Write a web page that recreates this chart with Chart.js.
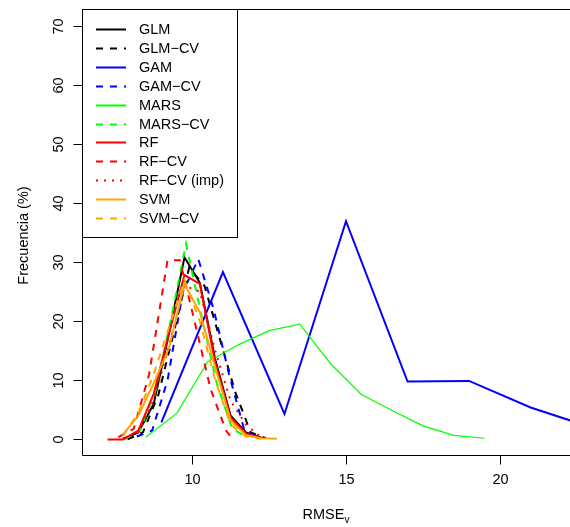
<!DOCTYPE html>
<html>
<head>
<meta charset="utf-8">
<script src="https://cdn.jsdelivr.net/npm/chart.js@4.4.1/dist/chart.umd.min.js"></script>
<style>
  body { margin: 0; background: #fff; }
  #grafica { display: block; }
</style>
</head>
<body>
<canvas id="grafica" width="570" height="527"></canvas>
<script>
// valores (RMSEv vs frecuencia %)
var glmX = [7.75, 8.25, 8.75, 9.25, 9.75, 10.25, 10.75, 11.25, 11.75, 12.25];
var glmY = [0.1, 1.2, 6, 18, 30.8, 26.5, 13.5, 4, 1.2, 0.3];
var glmCvX = [7.9, 8.4, 8.9, 9.4, 9.9, 10.4, 10.9, 11.4, 11.9, 12.4];
var glmCvY = [0, 1.2, 7.5, 18, 29, 26, 17, 8, 1.2, 0.2];
var gamX = [9, 11, 13, 15, 17, 19, 21, 23];
var gamY = [2.9, 28.3, 4.3, 36.9, 9.8, 9.9, 5.4, 2.0];
var gamCvX = [8.2, 8.7, 9.2, 9.7, 10.2, 10.7, 11.2, 11.7, 12.2];
var gamCvY = [0.5, 1.5, 10, 25, 30.5, 22, 11, 1.5, 0.2];
var marsX = [8.5, 9.5, 10.5, 11.5, 12.5, 13.5, 14.5, 15.5, 16.5, 17.5, 18.5, 19.5];
var marsY = [0.4, 4.4, 13.1, 16.0, 18.4, 19.5, 12.8, 7.6, 4.9, 2.3, 0.7, 0.2];
var marsCvX = [7.8, 8.3, 8.8, 9.3, 9.8, 10.3, 10.8, 11.3, 11.8];
var marsCvY = [0, 1.5, 8, 20, 33.1, 21, 9.5, 1.8, 0.3];
var rfX = [7.25, 7.75, 8.25, 8.75, 9.25, 9.75, 10.25, 10.75, 11.25, 11.75, 12.25];
var rfY = [0, 0, 1.5, 7.7, 18, 27.8, 26.3, 13, 3.7, 1.0, 0.2];
var rfCvX = [7.6, 8.1, 8.6, 9.2, 9.6, 10.1, 10.6, 11.1, 11.3];
var rfCvY = [0.4, 1.8, 11, 30.3, 30.3, 19.5, 8.5, 1.5, 0.2];
var rfImpX = [7.75, 8.25, 8.75, 9.25, 9.75, 10.25, 10.75, 11.25, 11.75, 12.25];
var rfImpY = [0.2, 1.2, 6.5, 16, 26, 25, 15, 6.5, 2.5, 0.3];
var svmX = [7.75, 8.25, 8.75, 9.25, 9.75, 10.25, 10.75, 11.25, 11.75, 12.25, 12.75];
var svmY = [0.8, 4, 9.5, 15.5, 26.3, 21.5, 12.2, 3.2, 0.7, 0.2, 0.1];
var svmCvX = [7.75, 8.25, 8.75, 9.25, 9.75, 10.25, 10.75, 11.25, 11.75, 12.25];
var svmCvY = [0.6, 4.5, 11, 19, 27, 20, 10, 2.5, 0.5, 0.1];

var xTicks = [10, 15, 20];
var yTicks = [0, 10, 20, 30, 40, 50, 60, 70];

var FUENTE = '"Liberation Sans", Arial, sans-serif';
var RAYA = [7, 7];
var PUNTO = [2, 6];

function puntos(xs, ys) {
    var out = [];
    for (var i = 0; i < xs.length; i++) {
        out.push({x: xs[i], y: ys[i]});
    }
    return out;
}

function serie(nombre, xs, ys, color, dash, ancho) {
    return {
        label: nombre,
        data: puntos(xs, ys),
        borderColor: color,
        borderDash: dash,
        borderWidth: ancho,
        pointRadius: 0,
        tension: 0,
        fill: false
    };
}

var datasets = [
    serie('GLM', glmX, glmY, '#000000', [], 2),
    serie('GLM\u2212CV', glmCvX, glmCvY, '#000000', RAYA, 2),
    serie('GAM', gamX, gamY, '#0000FF', [], 2),
    serie('GAM\u2212CV', gamCvX, gamCvY, '#0000FF', RAYA, 2),
    serie('MARS', marsX, marsY, '#00FF00', [], 1.2),
    serie('MARS\u2212CV', marsCvX, marsCvY, '#00FF00', RAYA, 2),
    serie('RF', rfX, rfY, '#FF0000', [], 2),
    serie('RF\u2212CV', rfCvX, rfCvY, '#FF0000', RAYA, 2),
    serie('RF\u2212CV (imp)', rfImpX, rfImpY, '#FF0000', PUNTO, 2),
    serie('SVM', svmX, svmY, '#FFA500', [], 2),
    serie('SVM\u2212CV', svmCvX, svmCvY, '#FFA500', RAYA, 2)
];
// la ultima serie queda encima, como en R
datasets.forEach(function (d, i) { d.order = -i; });

// ejes, caja y leyenda al estilo de R
var ejesR = {
    id: 'ejesR',
    afterDraw: function (chart) {
        var ctx = chart.ctx;
        var a = chart.chartArea;
        var sx = chart.scales.x;
        var sy = chart.scales.y;
        var L = Math.round(a.left) + 0.5;
        var T = Math.round(a.top) + 0.5;
        var B = Math.round(a.bottom) - 0.5;
        ctx.save();
        ctx.strokeStyle = '#000';
        ctx.lineWidth = 1;
        ctx.setLineDash([]);
        ctx.beginPath();
        ctx.moveTo(chart.width + 5, T);
        ctx.lineTo(L, T);
        ctx.lineTo(L, B);
        ctx.lineTo(chart.width + 5, B);
        ctx.stroke();

        ctx.fillStyle = '#000';
        ctx.font = '14.5px ' + FUENTE;
        // eje x
        ctx.textAlign = 'center';
        ctx.textBaseline = 'middle';
        xTicks.forEach(function (v) {
            var px = Math.round(sx.getPixelForValue(v)) + 0.5;
            ctx.beginPath();
            ctx.moveTo(px, B);
            ctx.lineTo(px, B + 9);
            ctx.stroke();
            ctx.fillText(String(v), px, 480);
        });
        // eje y, etiquetas verticales
        yTicks.forEach(function (v) {
            var py = Math.round(sy.getPixelForValue(v)) + 0.5;
            ctx.beginPath();
            ctx.moveTo(L, py);
            ctx.lineTo(L - 9, py);
            ctx.stroke();
            ctx.save();
            ctx.translate(59, py);
            ctx.rotate(-Math.PI / 2);
            ctx.fillText(String(v), 0, 0);
            ctx.restore();
        });
        // titulos
        var cx = (a.left + a.right) / 2;
        var w1 = ctx.measureText('RMSE').width;
        ctx.font = '10px ' + FUENTE;
        var w2 = ctx.measureText('v').width;
        ctx.textAlign = 'left';
        ctx.textBaseline = 'alphabetic';
        ctx.font = '14.5px ' + FUENTE;
        var x0 = cx - (w1 + w2) / 2;
        ctx.fillText('RMSE', x0, 519);
        ctx.font = '10px ' + FUENTE;
        ctx.fillText('v', x0 + w1, 523);
        ctx.font = '14.5px ' + FUENTE;
        ctx.save();
        ctx.translate(24, (a.top + a.bottom) / 2 + 3);
        ctx.rotate(-Math.PI / 2);
        ctx.textAlign = 'center';
        ctx.textBaseline = 'middle';
        ctx.fillText('Frecuencia (%)', 0, 0);
        ctx.restore();

        // leyenda
        var lx = L, ly = T, lw = 155, lh = 228;
        ctx.fillStyle = '#fff';
        ctx.fillRect(lx, ly, lw, lh);
        ctx.strokeRect(lx, ly, lw, lh);
        ctx.textAlign = 'left';
        ctx.textBaseline = 'middle';
        chart.data.datasets.forEach(function (d, i) {
            var yy = Math.round(ly + 19.5 + i * 18.9) + 0.5;
            ctx.strokeStyle = d.borderColor;
            ctx.lineWidth = 2;
            ctx.setLineDash(d.borderDash);
            ctx.beginPath();
            ctx.moveTo(lx + 13.5, yy);
            ctx.lineTo(lx + 43.5, yy);
            ctx.stroke();
            ctx.setLineDash([]);
            ctx.fillStyle = '#000';
            ctx.fillText(d.label, lx + 56.5, yy + 0.5);
        });
        ctx.restore();
    }
};

var canvas = document.getElementById('grafica').getContext('2d');
window.grafica = new Chart(canvas, {
    type: 'line',
    data: {datasets: datasets},
    options: {
        responsive: false,
        animation: false,
        devicePixelRatio: 1,
        layout: {padding: {left: 82, top: 9, right: 0, bottom: 71}},
        scales: {
            x: {type: 'linear', min: 6.42, max: 22.28, display: false},
            y: {type: 'linear', min: -2.8, max: 72.8, display: false}
        },
        plugins: {
            legend: {display: false},
            tooltip: {enabled: false}
        }
    },
    plugins: [ejesR]
});
</script>
</body>
</html>
